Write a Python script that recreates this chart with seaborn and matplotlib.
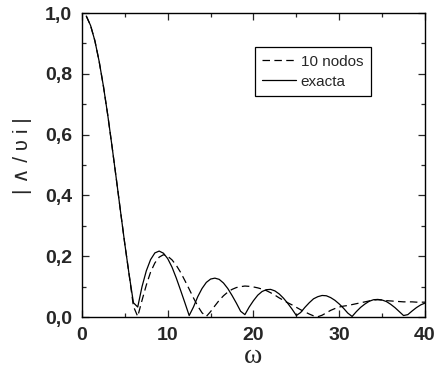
import numpy as np
import pandas as pd
import seaborn as sns
import matplotlib.pyplot as plt
from matplotlib.ticker import MultipleLocator

# omega sampled every 0.5 from 0.5 to 40
omega = np.arange(1, 81) * 0.5

exacta = [0.990, 0.959, 0.909, 0.841, 0.759, 0.665, 0.562, 0.455, 0.346, 0.239,
          0.139, 0.047, 0.033, 0.100, 0.152, 0.189, 0.211, 0.217, 0.210, 0.192,
          0.164, 0.128, 0.088, 0.047, 0.005, 0.033, 0.067, 0.094, 0.114, 0.125,
          0.128, 0.124, 0.112, 0.094, 0.071, 0.046, 0.019, 0.008, 0.033, 0.054,
          0.072, 0.084, 0.090, 0.091, 0.086, 0.076, 0.062, 0.045, 0.026, 0.005,
          0.015, 0.032, 0.047, 0.060, 0.067, 0.071, 0.070, 0.064, 0.055, 0.043,
          0.029, 0.013, 0.002, 0.018, 0.032, 0.043, 0.052, 0.057, 0.058, 0.056,
          0.051, 0.042, 0.031, 0.018, 0.005, 0.008, 0.020, 0.031, 0.040, 0.046]

nodos10 = [0.990, 0.959, 0.909, 0.841, 0.759, 0.665, 0.562, 0.455, 0.346, 0.239,
           0.139, 0.035, 0.002, 0.055, 0.105, 0.148, 0.178, 0.197, 0.205, 0.200,
           0.188, 0.170, 0.147, 0.120, 0.092, 0.063, 0.036, 0.014, 0.002, 0.018,
           0.037, 0.055, 0.070, 0.082, 0.091, 0.097, 0.100, 0.102, 0.101, 0.099,
           0.096, 0.092, 0.087, 0.080, 0.072, 0.063, 0.055, 0.047, 0.040, 0.032,
           0.024, 0.017, 0.010, 0.004, 0.001, 0.006, 0.014, 0.022, 0.028, 0.033,
           0.036, 0.038, 0.041, 0.044, 0.047, 0.050, 0.053, 0.056, 0.057, 0.056,
           0.054, 0.053, 0.052, 0.051, 0.050, 0.050, 0.050, 0.049, 0.049, 0.049]

x_ticks = [0, 10, 20, 30, 40]
y_ticks = [0.0, 0.2, 0.4, 0.6, 0.8, 1.0]
y_labels = ['0,0', '0,2', '0,4', '0,6', '0,8', '1,0']

sns.set_style('ticks')
plt.rcParams['font.family'] = ['Liberation Sans', 'DejaVu Sans']

fig = plt.figure(figsize=(4.42, 3.77), dpi=100)
ax = fig.add_axes([0.1855, 0.159, 0.776, 0.8065])

sns.lineplot(x=omega, y=nodos10, ax=ax, color='black', lw=0.9,
             label='10 nodos', linestyle=(0, (6, 3.5)))
sns.lineplot(x=omega, y=exacta, ax=ax, color='black', lw=0.9, label='exacta')

ax.set_xlim(0, 40)
ax.set_ylim(0, 1.0)
ax.set_xticks(x_ticks)
ax.set_xticklabels([str(t) for t in x_ticks])
ax.set_yticks(y_ticks)
ax.set_yticklabels(y_labels)
ax.xaxis.set_minor_locator(MultipleLocator(5))
ax.yaxis.set_minor_locator(MultipleLocator(0.1))
ax.tick_params(which='both', direction='in', top=True, right=True, width=0.9)
ax.tick_params(which='major', length=5, labelsize=14, pad=7)
ax.tick_params(which='minor', length=3)
for lab in ax.get_xticklabels() + ax.get_yticklabels():
    lab.set_fontweight('bold')
for sp in ax.spines.values():
    sp.set_linewidth(1.0)
    sp.set_color('black')

ax.set_xlabel('ω', family='Liberation Serif', fontsize=20, labelpad=0)
ax.set_ylabel('| ∧ / ʋ i |', fontsize=15)
ax.yaxis.set_label_coords(-0.145, 0.53)

leg = ax.legend(loc='upper left', bbox_to_anchor=(0.504, 0.888), borderaxespad=0,
                fancybox=False, edgecolor='black', framealpha=1, fontsize=11,
                handlelength=2.2, handletextpad=0.3, labelspacing=0.4,
                borderpad=0.5)
leg.get_frame().set_linewidth(0.9)

fig.savefig('out.png', dpi=100)
